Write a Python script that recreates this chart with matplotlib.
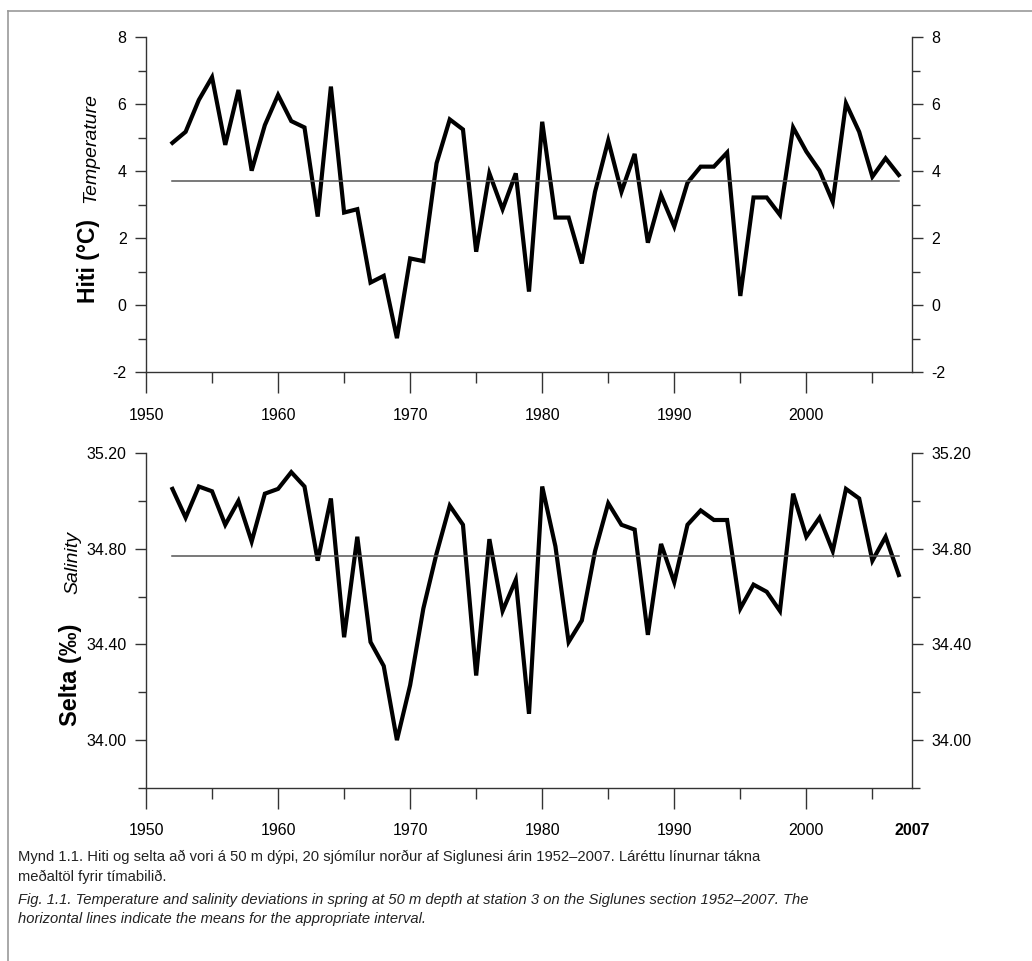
import numpy as np
import matplotlib
matplotlib.use('Agg')
import matplotlib.pyplot as plt
from matplotlib.ticker import MultipleLocator, FormatStrFormatter
from matplotlib.lines import Line2D

plt.rcParams['font.family'] = ['Liberation Sans', 'DejaVu Sans']
plt.rcParams['axes.unicode_minus'] = False

years = np.arange(1952, 2008)

temperature = [4.84, 5.17, 6.12, 6.80, 4.78, 6.42, 4.01, 5.37, 6.27, 5.49,
               5.30, 2.64, 6.52, 2.76, 2.86, 0.67, 0.87, -0.99, 1.39, 1.31,
               4.23, 5.54, 5.24, 1.59, 3.93, 2.86, 3.93, 0.40, 5.47, 2.61,
               2.61, 1.24, 3.38, 4.91, 3.38, 4.51, 1.86, 3.28, 2.34, 3.65,
               4.13, 4.13, 4.55, 0.27, 3.21, 3.21, 2.69, 5.30, 4.58, 4.01,
               3.08, 6.02, 5.17, 3.83, 4.38, 3.88]
temperature_mean = 3.71

salinity = [35.05, 34.93, 35.06, 35.04, 34.90, 35.00, 34.83, 35.03, 35.05, 35.12,
            35.06, 34.75, 35.01, 34.43, 34.85, 34.41, 34.31, 34.00, 34.23, 34.55,
            34.78, 34.98, 34.90, 34.27, 34.84, 34.54, 34.67, 34.11, 35.06, 34.81,
            34.41, 34.50, 34.79, 34.99, 34.90, 34.88, 34.44, 34.82, 34.66, 34.90,
            34.96, 34.92, 34.92, 34.55, 34.65, 34.62, 34.54, 35.03, 34.85, 34.93,
            34.79, 35.05, 35.01, 34.75, 34.85, 34.69]
salinity_mean = 34.77

caption_is = ["Mynd 1.1. Hiti og selta að vori á 50 m dýpi, 20 sjómílur norður af Siglunesi árin 1952–2007. Láréttu línurnar tákna",
              "meðaltöl fyrir tímabilið."]
caption_en = ["Fig. 1.1. Temperature and salinity deviations in spring at 50 m depth at station 3 on the Siglunes section 1952–2007. The",
              "horizontal lines indicate the means for the appropriate interval."]

W, H = 1032, 961
fig = plt.figure(figsize=(W / 100, H / 100), dpi=100)


def fx(px):
    return px / W


def fy(py):
    return 1 - py / H


ax1 = fig.add_axes([fx(146), fy(372), fx(912) - fx(146), fy(37) - fy(372)])
ax2 = fig.add_axes([fx(146), fy(788), fx(912) - fx(146), fy(453) - fy(788)])

spine_col = '#333333'
for ax in (ax1, ax2):
    ax.spines['top'].set_visible(False)
    for s in ('left', 'right', 'bottom'):
        ax.spines[s].set_color(spine_col)
        ax.spines[s].set_linewidth(1.0)
    ax.set_xlim(1950, 2008)
    ax.xaxis.set_major_locator(MultipleLocator(10))
    ax.xaxis.set_minor_locator(MultipleLocator(5))
    ax.tick_params(axis='x', which='major', direction='out', length=15, width=1,
                   color=spine_col, labelsize=11.5, pad=11)
    ax.tick_params(axis='x', which='minor', direction='out', length=8, width=1, color=spine_col)
    ax.tick_params(axis='y', which='major', direction='out', length=8, width=1, color=spine_col,
                   labelsize=11.5, pad=6, left=True, right=True, labelleft=True, labelright=True)
    ax.tick_params(axis='y', which='minor', direction='out', length=6, width=1, color=spine_col,
                   left=True, right=True)

# top: temperature
ax1.plot(years, temperature, color='black', lw=3.0, solid_joinstyle='miter')
ax1.plot([years[0], years[-1]], [temperature_mean, temperature_mean], color='#555555', lw=1.1)
ax1.set_ylim(-2, 8)
ax1.yaxis.set_major_locator(MultipleLocator(2))
ax1.yaxis.set_minor_locator(MultipleLocator(1))
ax1.set_xticks([1950, 1960, 1970, 1980, 1990, 2000])

# bottom: salinity
ax2.plot(years, salinity, color='black', lw=3.0, solid_joinstyle='miter')
ax2.plot([years[0], years[-1]], [salinity_mean, salinity_mean], color='#555555', lw=1.1)
ax2.set_ylim(33.8, 35.2)
ax2.set_yticks([34.0, 34.4, 34.8, 35.2])
ax2.set_yticks([33.8, 34.2, 34.6, 35.0], minor=True)
ax2.yaxis.set_major_formatter(FormatStrFormatter('%.2f'))
ax2.set_xticks([1950, 1960, 1970, 1980, 1990, 2000])
ax2.tick_params(axis='x', which='major', pad=10)
ax2.text(2008, -0.126, '2007', transform=ax2.get_xaxis_transform(), ha='center', va='center',
         fontsize=11.5, fontweight='bold')

# y labels
fig.text(fx(95), fy(261), 'Hiti (°C)', rotation=90, rotation_mode='anchor', ha='center',
         va='baseline', fontsize=16.5, fontweight='bold')
fig.text(fx(95), fy(148), 'Temperature', rotation=90, rotation_mode='anchor', ha='center',
         va='baseline', fontsize=14, fontstyle='italic')
fig.text(fx(77), fy(675), 'Selta (‰)', rotation=90, rotation_mode='anchor', ha='center',
         va='baseline', fontsize=17, fontweight='bold')
fig.text(fx(77), fy(563), 'Salinity', rotation=90, rotation_mode='anchor', ha='center',
         va='baseline', fontsize=14, fontstyle='italic')

# captions
cap_kw = dict(ha='left', va='center', fontsize=10.6, color='#222222')
fig.text(fx(18), fy(857), caption_is[0], **cap_kw)
fig.text(fx(18), fy(877), caption_is[1], **cap_kw)
fig.text(fx(18), fy(900), caption_en[0], fontstyle='italic', **cap_kw)
fig.text(fx(18), fy(919), caption_en[1], fontstyle='italic', **cap_kw)

# frame
fig.add_artist(Line2D([fx(8), fx(8)], [fy(11), 0], color='#999999', lw=1.2))
fig.add_artist(Line2D([fx(8), 1], [fy(11), fy(11)], color='#999999', lw=1.2))

fig.savefig('out.png', dpi=100)
